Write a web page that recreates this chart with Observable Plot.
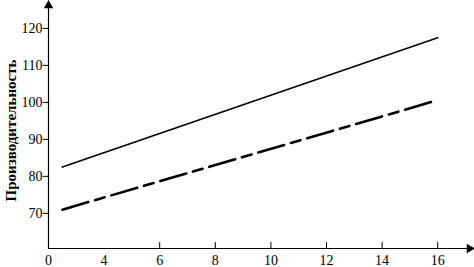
<!DOCTYPE html>
<html><head><meta charset="utf-8">
<script src="https://cdn.jsdelivr.net/npm/d3@7"></script>
<script src="https://cdn.jsdelivr.net/npm/@observablehq/plot@0.6"></script>
<style>body{margin:0;background:#fff}</style>
</head><body><div id="chart"></div>
<script>
const xValues = [2.5, 16];
const solidValues = [82.5, 117.5];
const dashedValues = [71, 100.6];
const xTickValues = [2, 4, 6, 8, 10, 12, 14, 16];
const xTickLabels = ["0", "4", "6", "8", "10", "12", "14", "16"];
const xTickMarks = [6, 8, 10, 12, 14, 16];
const yTickValues = [70, 80, 90, 100, 110, 120];
const yLabel = "Производительность";

const x0 = 2, y0 = 60.5, xMax = 17.25, yMax = 127;
const solid = xValues.map((x, i) => ({x, y: solidValues[i]}));
const dashed = xValues.map((x, i) => ({x, y: dashedValues[i]}));
const xTicks = xTickValues.map((v, i) => ({v, label: xTickLabels[i]}));
const yTicks = yTickValues.map(v => ({v}));

const chart = Plot.plot({
  width: 474, height: 267,
  marginLeft: 48, marginRight: 9, marginTop: 2, marginBottom: 19,
  x: {domain: [2, 17], axis: null},
  y: {domain: [y0, yMax], axis: null},
  style: {fontSize: "14px", color: "#000", background: "#fff"},
  marks: [
    Plot.ruleX([x0], {y1: y0, y2: yMax, stroke: "#000", strokeWidth: 1.2}),
    Plot.ruleY([y0], {x1: x0, x2: xMax, stroke: "#000", strokeWidth: 1.2}),
    Plot.dot([{x: x0, y: yMax}], {x: "x", y: "y", symbol: "triangle", r: 3.5, fill: "#000", stroke: null, dy: 3}),
    Plot.dot([{x: xMax, y: y0}], {x: "x", y: "y", symbol: "triangle", r: 3.5, fill: "#000", stroke: null, rotate: 90, dx: -3}),
    Plot.ruleX(xTickMarks, {y1: y0, y2: y0 + 1.6, stroke: "#000", strokeWidth: 1}),
    Plot.text(xTicks, {x: "v", y: () => y0, text: "label", lineAnchor: "middle", dy: 12, fontSize: 14}),
    Plot.ruleY(yTicks, {y: "v", x1: () => x0 - 0.19, x2: () => x0, stroke: "#000", strokeWidth: 1}),
    Plot.text(yTicks, {y: "v", x: () => x0, text: d => String(d.v), textAnchor: "end", dx: -6, fontSize: 14}),
    Plot.text([yLabel], {frameAnchor: "left", text: d => d, rotate: -90, textAnchor: "middle", dx: -37, dy: 5, fontSize: 15, fontWeight: "bold"}),
    Plot.line(solid, {x: "x", y: "y", stroke: "#000", strokeWidth: 1.6}),
    Plot.line(dashed, {x: "x", y: "y", stroke: "#000", strokeWidth: 2.6, strokeDasharray: "27,7,10,7"})
  ]
});
chart.style.fontFamily = "Liberation Serif";
d3.select(chart).selectAll("g, text").attr("font-family", null).style("font-family", "Liberation Serif");
document.getElementById("chart").appendChild(chart);
</script>
</body></html>
